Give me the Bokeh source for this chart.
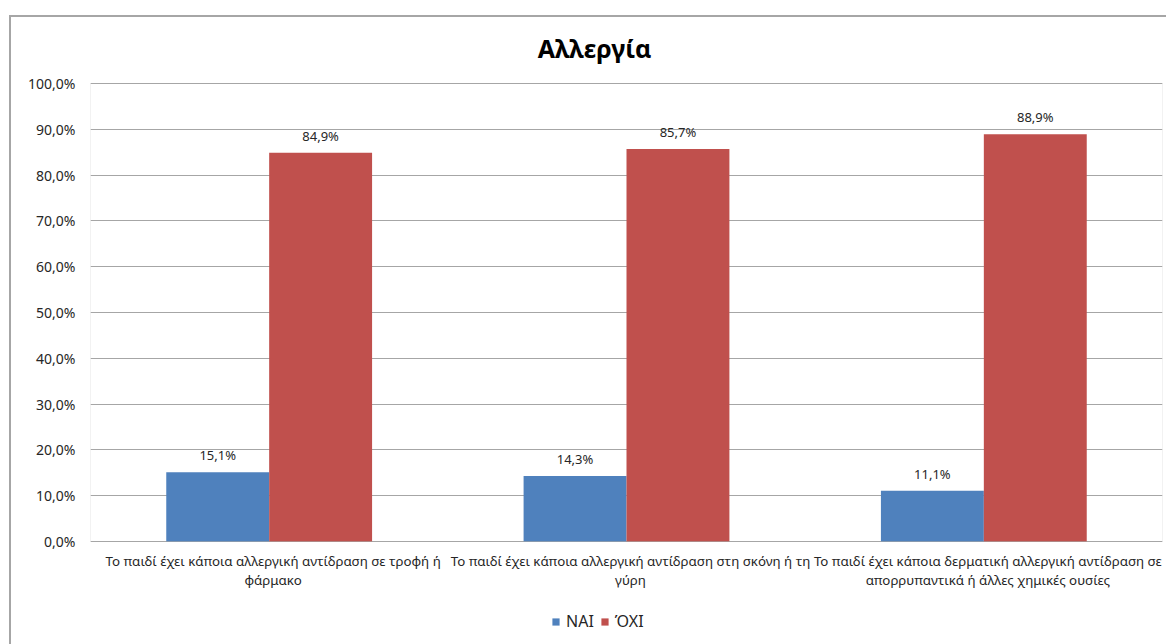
from bokeh.plotting import figure
from bokeh.models import ColumnDataSource, FixedTicker, Legend, LegendItem, Label, LabelSet, BoxAnnotation
from bokeh.core.properties import value
from bokeh.transform import dodge
from bokeh.embed import file_html
from bokeh.resources import INLINE

title_text = "Αλλεργία"
categories = [
    "Το παιδί έχει κάποια αλλεργική αντίδραση σε τροφή ή\nφάρμακο",
    "Το παιδί έχει κάποια αλλεργική αντίδραση στη σκόνη ή τη\nγύρη",
    "Το παιδί έχει κάποια δερματική αλλεργική αντίδραση σε\nαπορρυπαντικά ή άλλες χημικές ουσίες",
]
series_names = ["ΝΑΙ", "ΌΧΙ"]
nai = [15.1, 14.3, 11.1]
oxi = [84.9, 85.7, 88.9]
y_ticks = [0, 10, 20, 30, 40, 50, 60, 70, 80, 90, 100]

def fmt(v):
    return ("%.1f%%" % v).replace(".", ",")

src = ColumnDataSource(dict(
    cat=categories, nai=nai, oxi=oxi, base=[0] * len(categories),
    line1=[c.split("\n")[0] for c in categories],
    line2=[c.split("\n")[1] for c in categories],
    nai_lbl=[fmt(v) for v in nai], oxi_lbl=[fmt(v) for v in oxi],
))

FONT = "Noto Sans"
BLUE = "#4F81BD"
RED = "#C0504D"
GRID = "#A6A6A6"
TXT = "#262626"

PLOT_H = 458          # pixel height of the 0..100 % plot area
ABOVE = 66            # pixels of frame above the 100 % line (title space)
BELOW = 100           # pixels of frame below the 0 % line (labels + legend)
FRAME_H = PLOT_H + ABOVE + BELOW
ymin = -100.0 * BELOW / PLOT_H
ymax = 100.0 + 100.0 * ABOVE / PLOT_H

p = figure(x_range=categories, y_range=(ymin, ymax), frame_width=1072, frame_height=FRAME_H,
           min_border_left=79, min_border_right=10, min_border_top=0, min_border_bottom=3,
           output_backend="svg", toolbar_location=None, title=None)
p.margin = (15, 0, 0, 9)
p.styles = {"border-left": "2px solid #A6A6A6", "border-top": "2px solid #A6A6A6"}

bw = 0.288
r1 = p.vbar(x=dodge("cat", -bw / 2, range=p.x_range), top="nai", width=bw, source=src,
            fill_color=BLUE, line_color=None)
r2 = p.vbar(x=dodge("cat", bw / 2, range=p.x_range), top="oxi", width=bw, source=src,
            fill_color=RED, line_color=None)

for col, lbl, off in (("nai", "nai_lbl", -bw / 2), ("oxi", "oxi_lbl", bw / 2)):
    ls = LabelSet(x=dodge("cat", off, range=p.x_range), y=col, text=lbl, source=src,
                  text_align="center", text_baseline="bottom", y_offset=8,
                  text_font=value(FONT), text_font_size=value("13px"), text_color=TXT)
    p.add_layout(ls)

# category labels under the 0 line (two centred lines each)
for field, yoff in (("line1", -10), ("line2", -29)):
    p.add_layout(LabelSet(x="cat", y="base", text=field, source=src, x_offset=4, y_offset=yoff,
                          text_align="center", text_baseline="top",
                          text_font=value(FONT), text_font_size=value("13.3px"), text_color=TXT))

# plot-area outline (0..100 %)
p.add_layout(BoxAnnotation(bottom=0, top=100, fill_color=None, line_color=GRID, line_width=1))

# chart title
p.add_layout(Label(x=len(categories) / 2, y=100, x_offset=-32, y_offset=36, text=title_text,
                   text_align="center", text_baseline="middle", text_font=FONT,
                   text_font_size="25px", text_font_style="bold", text_color="black"))

p.yaxis.ticker = FixedTicker(ticks=y_ticks)
p.yaxis.major_label_overrides = {t: fmt(t) for t in y_ticks}
p.yaxis.major_tick_line_color = None
p.yaxis.minor_tick_line_color = None
p.yaxis.axis_line_color = None
p.yaxis.major_label_text_font = FONT
p.yaxis.major_label_text_font_size = "14px"
p.yaxis.major_label_text_color = TXT
p.yaxis.major_label_standoff = 9

p.xaxis.visible = False

p.xgrid.grid_line_color = None
p.ygrid.grid_line_color = GRID
p.ygrid.grid_line_width = 1
p.outline_line_color = None

legend = Legend(items=[LegendItem(label=series_names[0], renderers=[r1]),
                       LegendItem(label=series_names[1], renderers=[r2])],
                orientation="horizontal", location=(461, 9), border_line_color=None,
                background_fill_alpha=0,
                label_text_font=FONT, label_text_font_size="16px", label_text_color=TXT,
                glyph_width=9, glyph_height=9, label_height=16, spacing=6, margin=0, padding=0,
                label_standoff=6)
p.add_layout(legend)

open("out.html", "w").write(file_html(p, INLINE))
